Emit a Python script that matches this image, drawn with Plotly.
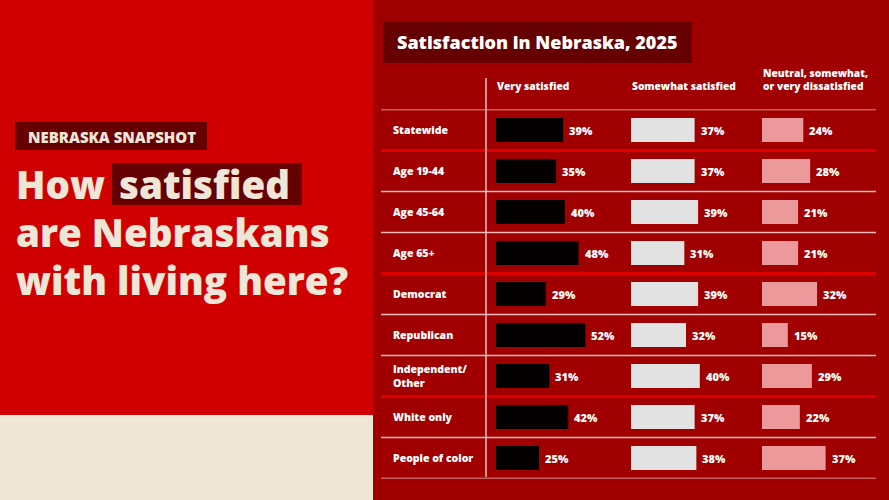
import plotly.graph_objects as go

W, H = 889, 500

categories = ["Statewide", "Age 19-44", "Age 45-64", "Age 65+", "Democrat",
              "Republican", "Independent/<br>Other", "White only", "People of color"]
very_satisfied = [39, 35, 40, 48, 29, 52, 31, 42, 25]
somewhat_satisfied = [37, 37, 39, 31, 39, 32, 40, 37, 38]
dissatisfied = [24, 28, 21, 21, 32, 15, 29, 22, 37]
column_headers = ["Very satisfied", "Somewhat satisfied",
                  "Neutral, somewhat,<br>or very dissatisfied"]
group_breaks = [0.5, 3.5, 6.5]
row_breaks = [1.5, 2.5, 4.5, 5.5, 7.5, 8.5]

RIGHT_BG = "#A00000"
LEFT_RED = "#D10000"
CREAM = "#EEE6D6"
DARK_BOX = "#660000"
WHITE = "#FFFFFF"
LIGHT_LINE = "#ECBDBD"
RED_LINE = "#E00000"
FONT = "Open Sans"
WT = 800


def px(x):
    return x / W


def py(y):
    return 1 - y / H


SCALE = 1.72
RANGE = 70
col_starts = [496, 631, 762]
colors = ["#050000", "#E2E2E2", "#EB999B"]
series = [very_satisfied, somewhat_satisfied, dissatisfied]

fig = go.Figure()
axis_names = ["x", "x2", "x3"]
for i, (vals, col) in enumerate(zip(series, colors)):
    fig.add_trace(go.Bar(
        y=categories, x=vals, orientation="h",
        marker=dict(color=col, line=dict(width=0)),
        width=0.59, xaxis=axis_names[i], yaxis="y",
        hoverinfo="skip", showlegend=False,
    ))
    for c, v in zip(categories, vals):
        fig.add_annotation(
            x=v, y=c, xref=axis_names[i], yref="y", text=f"{v}%",
            showarrow=False, xanchor="left", xshift=4,
            font=dict(family=FONT, size=11, color=WHITE, weight=WT),
        )

layout_axes = {}
for i, s in enumerate(col_starts):
    key = "xaxis" if i == 0 else f"xaxis{i + 1}"
    layout_axes[key] = dict(domain=[px(s), px(s + RANGE * SCALE)], range=[0, RANGE],
                            visible=False, anchor="y", fixedrange=True)

y_top, y_bot = 109.5, 478.5
fig.update_layout(
    width=W, height=H,
    margin=dict(l=0, r=0, t=0, b=0),
    paper_bgcolor=RIGHT_BG, plot_bgcolor="rgba(0,0,0,0)",
    bargap=0.4,
    yaxis=dict(domain=[py(y_bot), py(y_top)], range=[len(categories) - 0.5, -0.5],
               visible=False, fixedrange=True, type="category"),
    **layout_axes,
)

shapes = []
# left panels
shapes.append(dict(type="rect", xref="paper", yref="paper", x0=0, x1=px(373),
                   y0=py(415), y1=1, fillcolor=LEFT_RED, line=dict(width=0), layer="below"))
shapes.append(dict(type="rect", xref="paper", yref="paper", x0=0, x1=px(373),
                   y0=0, y1=py(415), fillcolor=CREAM, line=dict(width=0), layer="below"))
# boxes
shapes.append(dict(type="rect", xref="paper", yref="paper", x0=px(383), x1=px(692),
                   y0=py(63), y1=py(22), fillcolor=DARK_BOX, line=dict(width=0), layer="below"))
shapes.append(dict(type="rect", xref="paper", yref="paper", x0=px(15), x1=px(207),
                   y0=py(150), y1=py(122), fillcolor=DARK_BOX, line=dict(width=0), layer="below"))
shapes.append(dict(type="rect", xref="paper", yref="paper", x0=px(112), x1=px(302),
                   y0=py(205), y1=py(163), fillcolor=DARK_BOX, line=dict(width=0), layer="below"))
# header line
shapes.append(dict(type="line", xref="paper", yref="y", x0=px(381), x1=px(876),
                   y0=-0.5, y1=-0.5, line=dict(color=LIGHT_LINE, width=1.5)))
for b in row_breaks:
    shapes.append(dict(type="line", xref="paper", yref="y", x0=px(381), x1=px(876),
                       y0=b, y1=b, line=dict(color=LIGHT_LINE, width=1.5)))
for b in group_breaks:
    shapes.append(dict(type="line", xref="paper", yref="y", x0=px(381), x1=px(876),
                       y0=b, y1=b, line=dict(color=RED_LINE, width=3)))
# vertical divider
shapes.append(dict(type="line", xref="paper", yref="paper", x0=px(486), x1=px(486),
                   y0=py(477), y1=py(78), line=dict(color=LIGHT_LINE, width=1.5)))
fig.update_layout(shapes=shapes)

# row labels
for c in categories:
    fig.add_annotation(x=px(391), y=c, xref="paper", yref="y", text=c,
                       showarrow=False, xanchor="left", align="left",
                       font=dict(family=FONT, size=10.5, color=WHITE, weight=WT))

# column headers
for s, h in zip(col_starts, column_headers):
    fig.add_annotation(x=px(s - 1), y=py(95), xref="paper", yref="paper", text=h,
                       showarrow=False, xanchor="left", yanchor="bottom", align="left",
                       font=dict(family=FONT, size=10.2, color=WHITE, weight=WT))

# chart title
fig.add_annotation(x=px(395), y=py(42.5), xref="paper", yref="paper",
                   text="Satisfaction in Nebraska, 2025", showarrow=False,
                   xanchor="left", yanchor="middle",
                   font=dict(family=FONT, size=18, color=WHITE, weight=WT))

# left panel texts
fig.add_annotation(x=px(26), y=py(136.5), xref="paper", yref="paper",
                   text="NEBRASKA SNAPSHOT", showarrow=False,
                   xanchor="left", yanchor="middle",
                   font=dict(family=FONT, size=15, color=CREAM, weight=WT))
big = dict(family=FONT, size=38.5, color=CREAM, weight=WT)
fig.add_annotation(x=px(14), y=py(184), xref="paper", yref="paper",
                   text="How", showarrow=False, xanchor="left", yanchor="middle", font=big)
fig.add_annotation(x=px(117), y=py(184), xref="paper", yref="paper",
                   text="satisfied", showarrow=False, xanchor="left", yanchor="middle", font=big)
fig.add_annotation(x=px(14), y=py(232), xref="paper", yref="paper",
                   text="are Nebraskans", showarrow=False, xanchor="left", yanchor="middle", font=big)
fig.add_annotation(x=px(14), y=py(280), xref="paper", yref="paper",
                   text="with living here?", showarrow=False, xanchor="left", yanchor="middle", font=big)

fig.write_html("out.html")
